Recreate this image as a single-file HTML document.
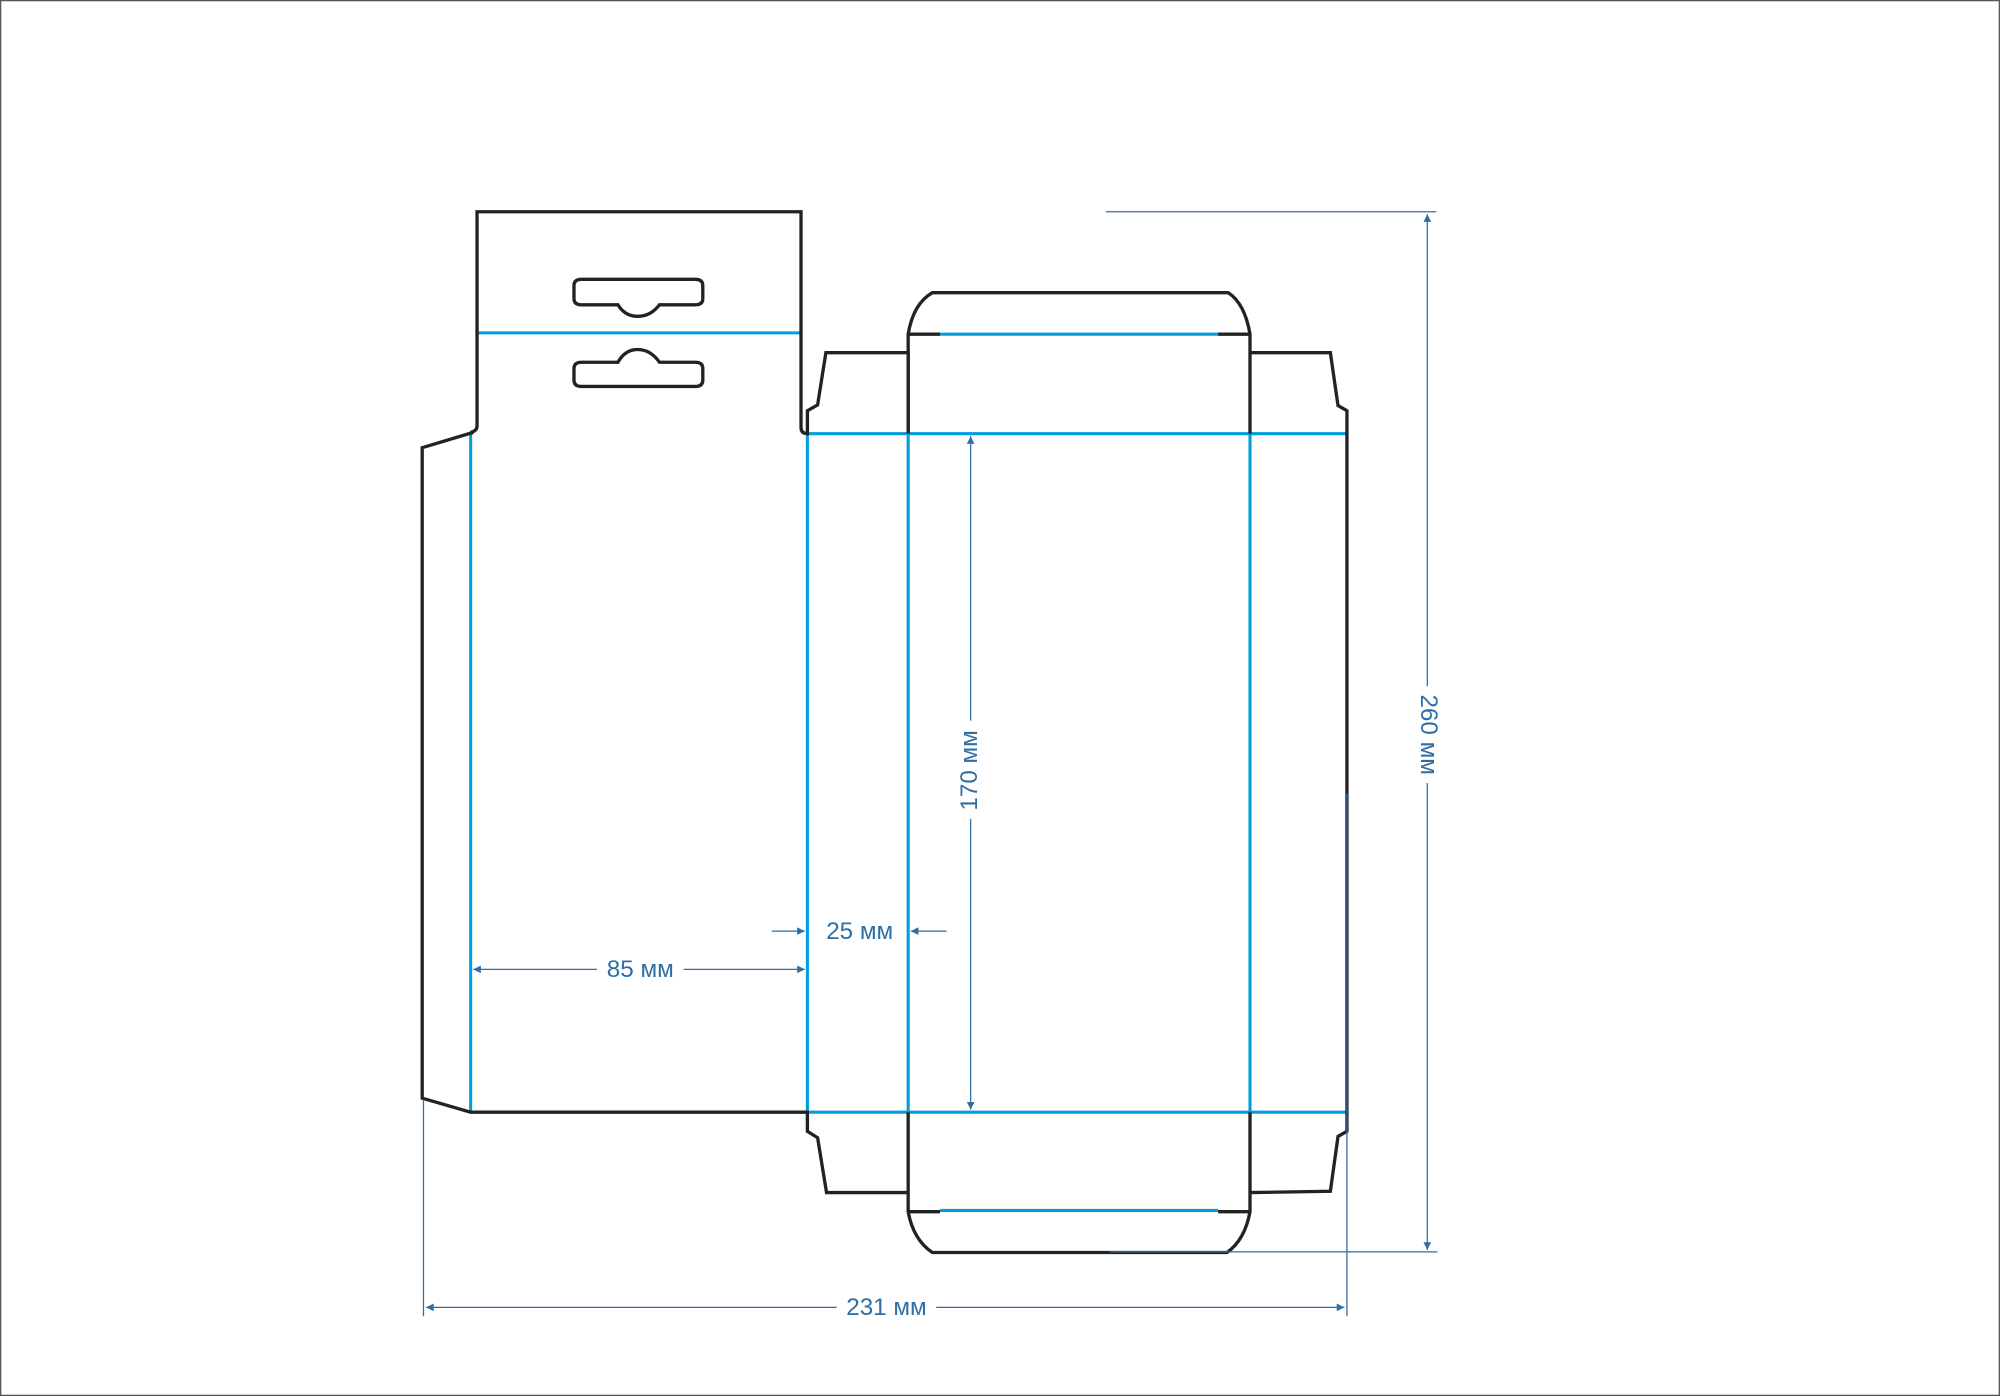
<!DOCTYPE html>
<html><head><meta charset="utf-8"><style>
html,body{margin:0;padding:0;background:#fff;}
svg{display:block;}
text{font-family:"Liberation Sans",sans-serif;fill:#2f6ea5;font-size:19px;}
</style></head><body>
<svg width="2000" height="1396" viewBox="0 0 1568 1094.5" preserveAspectRatio="none" xmlns="http://www.w3.org/2000/svg">
<defs>
<marker id="a" viewBox="0 0 10 10" refX="10" refY="5" markerWidth="11" markerHeight="6" markerUnits="userSpaceOnUse" orient="auto-start-reverse"><path d="M0,0 L10,5 L0,10 z" fill="#2f6ea5"/></marker>
</defs>
<rect x="0.5" y="0.5" width="1567" height="1093.5" fill="#fff" stroke="#555" stroke-width="1"/>
<g fill="none" stroke="#009ddc" stroke-width="2.4">
<line x1="374" y1="261" x2="628" y2="261"/>
<line x1="369" y1="340" x2="369" y2="872"/>
<line x1="633" y1="340" x2="633" y2="872"/>
<line x1="712" y1="340" x2="712" y2="872"/>
<line x1="980" y1="340" x2="980" y2="872"/>
<line x1="633" y1="340" x2="1055" y2="340"/>
<line x1="633" y1="872" x2="1055" y2="872"/>
<line x1="737" y1="262" x2="955" y2="262"/>
<line x1="737" y1="949" x2="955" y2="949"/>
</g>
<g fill="none" stroke="#222" stroke-width="2.6" stroke-linejoin="miter">
<path d="M369,339 Q374,338 374,334 L374,166 L628,166 L628,335 Q628,340 633,340 L633,322 L641,317.5 L647.5,276.5 L712,276.5 L712,340"/>
<path d="M371,339 L331,351 L331,861 L369,872 L633,872 L633,887 L641,892 L648,935 L712,935"/>
<path d="M712,340 L712,262 Q716,238 731,229.5 L963,229.5 Q976,238 980,262 L980,340"/>
<line x1="712" y1="262" x2="737" y2="262"/><line x1="955" y1="262" x2="980" y2="262"/>
<path d="M980,276.5 L1043,276.5 L1049,318 L1056,322 L1056,887 L1049,891 L1043,934 L980,935"/>
<path d="M712,872 L712,950 Q716,972 731,982 L962,982 Q976,972 980,950 L980,872"/>
<line x1="712" y1="950" x2="737" y2="950"/><line x1="955" y1="950" x2="980" y2="950"/>
<path d="M456,219 L545,219 Q551,219 551,224 L551,234 Q551,239 545,239 L517,239 Q510,248 500,248 Q490,248 484.5,239 L456,239 Q450,239 450,234 L450,224 Q450,219 456,219 Z"/>
<path d="M456,303 L545,303 Q551,303 551,298 L551,289 Q551,284 545,284 L517,284 Q510,274 500,274 Q490,274 484.5,284 L456,284 Q450,284 450,289 L450,298 Q450,303 456,303 Z"/>
</g>
<g stroke="#2f6ea5" stroke-width="1" fill="none">
<line x1="867" y1="166" x2="1126" y2="166"/>
<line x1="870" y1="981.5" x2="1127" y2="981.5"/>
<line x1="1119" y1="168" x2="1119" y2="538" marker-start="url(#a)"/>
<line x1="1119" y1="614" x2="1119" y2="980" marker-end="url(#a)"/>
<line x1="332" y1="862" x2="332" y2="1032"/>
<line x1="1056" y1="622" x2="1056" y2="1032"/>
<line x1="334" y1="1025" x2="656" y2="1025" marker-start="url(#a)"/>
<line x1="734" y1="1025" x2="1054" y2="1025" marker-end="url(#a)"/>
<line x1="761" y1="342" x2="761" y2="565" marker-start="url(#a)"/>
<line x1="761" y1="642" x2="761" y2="870" marker-end="url(#a)"/>
<line x1="371" y1="760" x2="468" y2="760" marker-start="url(#a)"/>
<line x1="536" y1="760" x2="631" y2="760" marker-end="url(#a)"/>
<line x1="605" y1="730" x2="631" y2="730" marker-end="url(#a)"/>
<line x1="742" y1="730" x2="714" y2="730" marker-end="url(#a)"/>
</g>
<text x="1119" y="576" text-anchor="middle" transform="rotate(90 1119 576)" dominant-baseline="middle">260 мм</text>
<text x="695" y="1026" text-anchor="middle" dominant-baseline="middle">231 мм</text>
<text x="761" y="604" text-anchor="middle" transform="rotate(-90 761 604)" dominant-baseline="middle">170 мм</text>
<text x="502" y="761" text-anchor="middle" dominant-baseline="middle">85 мм</text>
<text x="674" y="731" text-anchor="middle" dominant-baseline="middle">25 мм</text>
</svg>
</body></html>
